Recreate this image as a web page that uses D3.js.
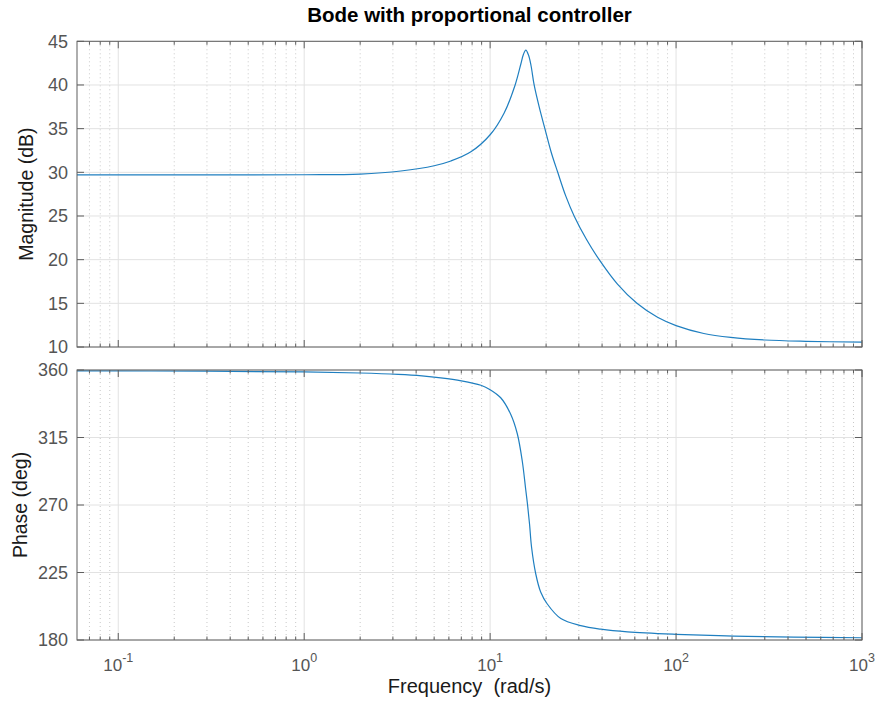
<!DOCTYPE html>
<html>
<head>
<meta charset="utf-8">
<script src="https://cdn.jsdelivr.net/npm/d3@7"></script>
<style>
  html, body { margin: 0; padding: 0; background: #fff; }
  svg { display: block; font-family: "Liberation Sans", Arial, Helvetica, sans-serif; }
</style>
</head>
<body>
<svg id="chart" width="879" height="704"></svg>
<script>
// Magnitude response (rad/s, dB)
const magFreq = [0.06, 0.1, 0.3, 1, 2, 3.31, 5, 6.15, 7.88, 10, 11.9, 13.63, 14.63, 15.1, 15.56, 16.1, 16.6, 17.25, 18.4, 19.7, 21.3, 23.1, 25.5, 28.3, 33, 38.6, 48.4, 61.6, 79.5, 100, 141, 197, 300, 500, 1000];
const magDb   = [29.7, 29.7, 29.7, 29.72, 29.8, 30.15, 30.75, 31.3, 32.35, 34.3, 36.8, 40.0, 42.4, 43.5, 44.0, 43.4, 42.2, 40.0, 37.4, 35.0, 32.3, 30.0, 27.3, 25.0, 22.3, 20.0, 17.2, 15.0, 13.4, 12.45, 11.55, 11.1, 10.8, 10.65, 10.55];

// Phase response (rad/s, deg)
const phaseFreq = [0.06, 0.3, 1, 2, 3.2, 4.3, 5.43, 7.0, 8.92, 10, 11.4, 12.9, 14.0, 14.9, 15.55, 15.9, 16.3, 16.7, 17.6, 18.7, 20.3, 24.0, 30.7, 39.4, 54.8, 100, 205, 430, 1000];
const phaseDeg  = [359.4, 359.2, 358.7, 358.0, 357.1, 356.1, 354.8, 352.8, 349.8, 346.9, 341.5, 330.5, 317.5, 299.0, 280.0, 270.0, 257.0, 242.0, 224.0, 212.0, 204.0, 194.3, 189.6, 187.2, 185.4, 183.8, 182.6, 181.9, 181.5];

// Axis ticks
const freqDomain = [0.06, 1000];
const freqDecades = [-1, 0, 1, 2, 3];
const magTicks = [10, 15, 20, 25, 30, 35, 40, 45];
const phaseTicks = [180, 225, 270, 315, 360];

const titleText = "Bode with proportional controller";
const xLabel = "Frequency  (rad/s)";
const magLabel = "Magnitude (dB)";
const phaseLabel = "Phase (deg)";

const svg = d3.select("#chart");
const left = 77, right = 862;

const x = d3.scaleLog().domain(freqDomain).range([left, right]);

const panels = [
  { top: 41.3, bottom: 347, y: d3.scaleLinear().domain([10, 45]).range([347, 41.3]),
    ticks: magTicks, freq: magFreq, vals: magDb, label: magLabel, labelX: 33, xLabels: false },
  { top: 370, bottom: 640, y: d3.scaleLinear().domain([180, 360]).range([640, 370]),
    ticks: phaseTicks, freq: phaseFreq, vals: phaseDeg, label: phaseLabel, labelX: 27, xLabels: true }
];

// Decade and in-between frequency positions within the domain
const majorF = freqDecades.map(d => Math.pow(10, d)).filter(f => f >= freqDomain[0] && f <= freqDomain[1]);
const minorF = [];
for (let d = -2; d <= 3; d++) {
  for (let m = 2; m <= 9; m++) {
    const f = m * Math.pow(10, d);
    if (f > freqDomain[0] * 1.0001 && f < freqDomain[1]) minorF.push(f);
  }
}

const axisColor = "#5e5e5e";
const tickTextColor = "#555555";
const gridColor = "#e2e2e2";
const minorGridColor = "#c8c8c8";
const lineColor = "#1f7fc0";

panels.forEach(p => {
  const g = svg.append("g");
  const y = p.y;

  // minor vertical grid (dotted)
  g.selectAll(".mg").data(minorF).join("line")
    .attr("x1", d => x(d)).attr("x2", d => x(d))
    .attr("y1", p.top).attr("y2", p.bottom)
    .attr("stroke", minorGridColor).attr("stroke-width", 1)
    .attr("stroke-dasharray", "1,3");

  // decade vertical grid
  g.selectAll(".Mg").data(majorF).join("line")
    .attr("x1", d => x(d)).attr("x2", d => x(d))
    .attr("y1", p.top).attr("y2", p.bottom)
    .attr("stroke", gridColor).attr("stroke-width", 1);

  // horizontal grid
  g.selectAll(".hg").data(p.ticks).join("line")
    .attr("x1", left).attr("x2", right)
    .attr("y1", d => y(d)).attr("y2", d => y(d))
    .attr("stroke", gridColor).attr("stroke-width", 1);

  // response curve
  const line = d3.line()
    .x((d, i) => x(p.freq[i]))
    .y(d => y(d))
    .curve(d3.curveCatmullRom.alpha(0.5));
  g.append("path")
    .datum(p.vals)
    .attr("d", line)
    .attr("fill", "none")
    .attr("stroke", lineColor)
    .attr("stroke-width", 1.2);

  // box
  g.append("rect")
    .attr("x", left).attr("y", p.top)
    .attr("width", right - left).attr("height", p.bottom - p.top)
    .attr("fill", "none").attr("stroke", axisColor).attr("stroke-width", 1);

  // inward x ticks, bottom and top
  const majLen = 7, minLen = 3.5;
  [[p.bottom, -1], [p.top, 1]].forEach(([yy, dir]) => {
    g.selectAll(null).data(majorF).join("line")
      .attr("x1", d => x(d)).attr("x2", d => x(d))
      .attr("y1", yy).attr("y2", yy + dir * majLen)
      .attr("stroke", axisColor);
    g.selectAll(null).data(minorF).join("line")
      .attr("x1", d => x(d)).attr("x2", d => x(d))
      .attr("y1", yy).attr("y2", yy + dir * minLen)
      .attr("stroke", axisColor);
  });

  // inward y ticks, left and right
  [[left, 1], [right, -1]].forEach(([xx, dir]) => {
    g.selectAll(null).data(p.ticks).join("line")
      .attr("x1", xx).attr("x2", xx + dir * majLen)
      .attr("y1", d => y(d)).attr("y2", d => y(d))
      .attr("stroke", axisColor);
  });

  // y tick labels
  g.selectAll(null).data(p.ticks).join("text")
    .attr("x", left - 9).attr("y", d => y(d))
    .attr("dy", "0.36em")
    .attr("text-anchor", "end")
    .attr("font-size", 18)
    .attr("fill", tickTextColor)
    .text(d => d);

  // y axis label
  g.append("text")
    .attr("transform", `translate(${p.labelX},${(p.top + p.bottom) / 2}) rotate(-90)`)
    .attr("text-anchor", "middle")
    .attr("font-size", 19.5)
    .attr("fill", "#1a1a1a")
    .text(p.label);

  if (p.xLabels) {
    const lab = g.selectAll(null).data(freqDecades).join("text")
      .attr("x", d => x(Math.pow(10, d)))
      .attr("y", p.bottom + 31)
      .attr("text-anchor", "middle")
      .attr("fill", tickTextColor)
      .attr("font-size", 17);
    lab.append("tspan").text("10");
    lab.append("tspan").attr("dy", -9).attr("font-size", 12.5).text(d => d < 0 ? "-" + Math.abs(d) : d);
  }
});

// x axis label
svg.append("text")
  .attr("x", (left + right) / 2).attr("y", 693)
  .attr("text-anchor", "middle")
  .attr("font-size", 20)
  .attr("fill", "#1a1a1a")
  .attr("xml:space", "preserve")
  .style("white-space", "pre")
  .text(xLabel);

// title
svg.append("text")
  .attr("x", (left + right) / 2).attr("y", 22)
  .attr("text-anchor", "middle")
  .attr("font-size", 20.5)
  .attr("font-weight", "bold")
  .attr("fill", "#000")
  .text(titleText);
</script>
</body>
</html>
